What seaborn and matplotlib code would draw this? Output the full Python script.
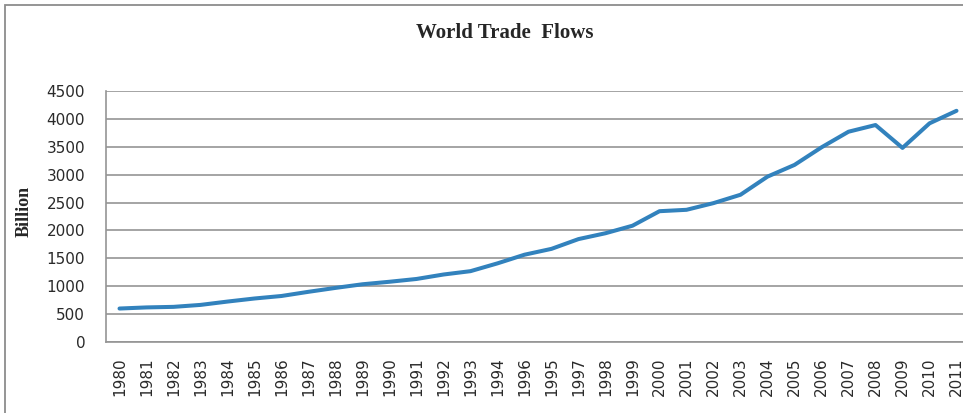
import matplotlib
matplotlib.use("Agg")
import matplotlib.pyplot as plt
import seaborn as sns
import pandas as pd
from matplotlib.patches import Rectangle

# labels as printed on the chart (1996 and 1995 are swapped in the source)
years = ["1980", "1981", "1982", "1983", "1984", "1985", "1986", "1987",
         "1988", "1989", "1990", "1991", "1992", "1993", "1994", "1996",
         "1995", "1997", "1998", "1999", "2000", "2001", "2002", "2003",
         "2004", "2005", "2006", "2007", "2008", "2009", "2010", "2011"]
trade = [600, 620, 630, 665, 725, 780, 825, 900,
         970, 1035, 1080, 1130, 1210, 1270, 1410, 1565,
         1670, 1845, 1950, 2085, 2345, 2370, 2490, 2640,
         2965, 3175, 3490, 3770, 3890, 3480, 3920, 4145]
y_ticks = [0, 500, 1000, 1500, 2000, 2500, 3000, 3500, 4000, 4500]

df = pd.DataFrame({"pos": range(len(years)), "year": years, "value": trade})

sns.set_style("white")
fig = plt.figure(figsize=(9.63, 4.13), dpi=100)
ax = fig.add_axes([106 / 963, 1 - 342 / 413, 864 / 963, 251 / 413])

# outer chart frame (cut off on the right like the source)
fig.patches.append(Rectangle((5 / 963, -0.1), 1.2, (413 - 5) / 413 + 0.1,
                             transform=fig.transFigure, fill=False,
                             edgecolor="#8c8c8c", linewidth=1.3))

sns.lineplot(data=df, x="pos", y="value", ax=ax, color="#3282bd",
             linewidth=2.9, sort=False)

ax.set_xlim(-0.5, len(years) - 0.5)
ax.set_ylim(0, 4500)
ax.set_yticks(y_ticks)
ax.set_yticklabels([str(t) for t in y_ticks], fontsize=11, family="DejaVu Sans")
ax.set_xticks(range(len(years)))
ax.set_xticklabels(years, rotation=90, fontsize=11, family="DejaVu Sans")
ax.tick_params(axis="y", length=0, pad=15, colors="#2a2a2a")
ax.tick_params(axis="x", length=0, pad=11, colors="#2a2a2a")
ax.yaxis.grid(True, color="#959595", linewidth=1.2)
ax.set_axisbelow(True)
for side in ["top", "right"]:
    ax.spines[side].set_visible(False)
for side in ["left", "bottom"]:
    ax.spines[side].set_color("#959595")
    ax.spines[side].set_linewidth(1.2)

ax.set_xlabel("")
ax.set_ylabel("Billion", fontsize=13, fontweight="bold", family="Liberation Serif")
ax.yaxis.set_label_coords((33 - 106) / 864, 0.52)
fig.text(505 / 963, 1 - 33 / 413, "World Trade  Flows", ha="center", va="center",
         fontsize=15, fontweight="bold", family="Liberation Serif")

fig.savefig("out.png", dpi=100)
